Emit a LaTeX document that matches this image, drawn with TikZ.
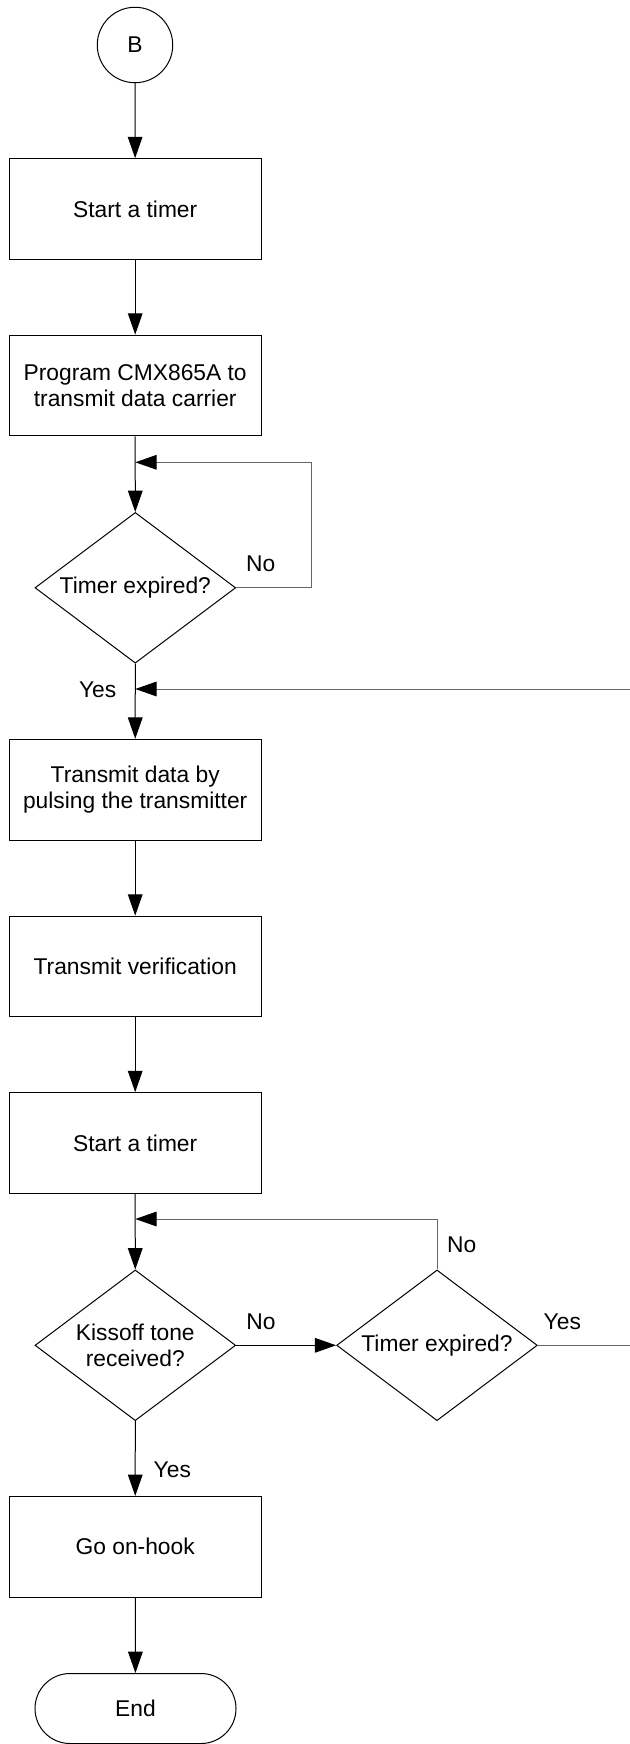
\documentclass[tikz,border=0pt]{standalone}
\usepackage{fontspec}
\setmainfont{Liberation Sans}
\usetikzlibrary{shapes.geometric,arrows.meta}
\begin{document}
\begin{tikzpicture}[x=0.75pt,y=-0.75pt,
  font=\fontsize{17.1}{20}\selectfont,
  line width=0.75pt,
  stepbox/.style={draw,rectangle,minimum width=188.8pt,minimum height=75.6pt,inner sep=0pt,align=center},
  decision/.style={draw,diamond,aspect=1.33,minimum width=150.5pt,minimum height=113pt,inner sep=0pt,align=center},
  connector/.style={draw,circle,minimum size=56.6pt,inner sep=0pt},
  terminal/.style={draw,rectangle,rounded corners=26.25pt,minimum width=150.75pt,minimum height=52.5pt,inner sep=0pt},
  flow/.style={-{Triangle[length=16pt,width=11pt]}},
  back/.style={draw=black!60,-{Triangle[length=16pt,width=11pt,color=black]}},
  lbl/.style={anchor=base,inner sep=0pt}]
\useasboundingbox (0,0) rectangle (630,1744);
\node[connector] (B) at (135,45) {B};
\node[stepbox] (s1) at (135.2,209) {Start a timer};
\node[stepbox] (s2) at (135.2,385.5) {Program CMX865A to\\transmit data carrier};
\node[decision] (d1) at (135.3,587.8) {Timer expired?};
\node[stepbox] (s3) at (135.2,789.7) {Transmit data by\\pulsing the transmitter};
\node[stepbox] (s4) at (135.2,966.5) {Transmit verification};
\node[stepbox] (s5) at (135.2,1143) {Start a timer};
\node[decision] (d2) at (135.3,1345.3) {Kissoff tone\\received?};
\node[decision] (d3) at (437,1345.3) {Timer expired?};
\node[stepbox] (s6) at (135.2,1546.8) {Go on-hook};
\node[terminal] (e) at (135.5,1708.5) {End};

\coordinate (j1) at (135.3,462.3);
\coordinate (r1) at (311.3,462.3);
\coordinate (j2) at (135.3,689);
\coordinate (r2) at (633,689);
\coordinate (j3) at (135.3,1219);
\coordinate (r3) at (437,1219);

\draw[flow] (B) -- (s1);
\draw[flow] (s1) -- (s2);
\draw[flow] (s2) -- (d1);
\draw[back] (d1.east) -| (r1) -- (j1);
\draw[flow] (d1) -- (s3);
\draw[back] (d3.east) -| (r2) -- (j2);
\draw[flow] (s3) -- (s4);
\draw[flow] (s4) -- (s5);
\draw[flow] (s5) -- (d2);
\draw[flow] (d2.east) -- (d3.west);
\draw[back] (d3.north) -- (r3) -- (j3);
\draw[flow] (d2) -- (s6);
\draw[flow] (s6) -- (e);

\node[lbl] (l1) at (260.7,571.5) {No};
\node[lbl] (l2) at (97.7,697) {Yes};
\node[lbl] (l3) at (261,1329) {No};
\node[lbl] (l4) at (461.7,1252.5) {No};
\node[lbl] (l5) at (562.3,1329) {Yes};
\node[lbl] (l6) at (172.3,1477.5) {Yes};
\end{tikzpicture}
\end{document}
